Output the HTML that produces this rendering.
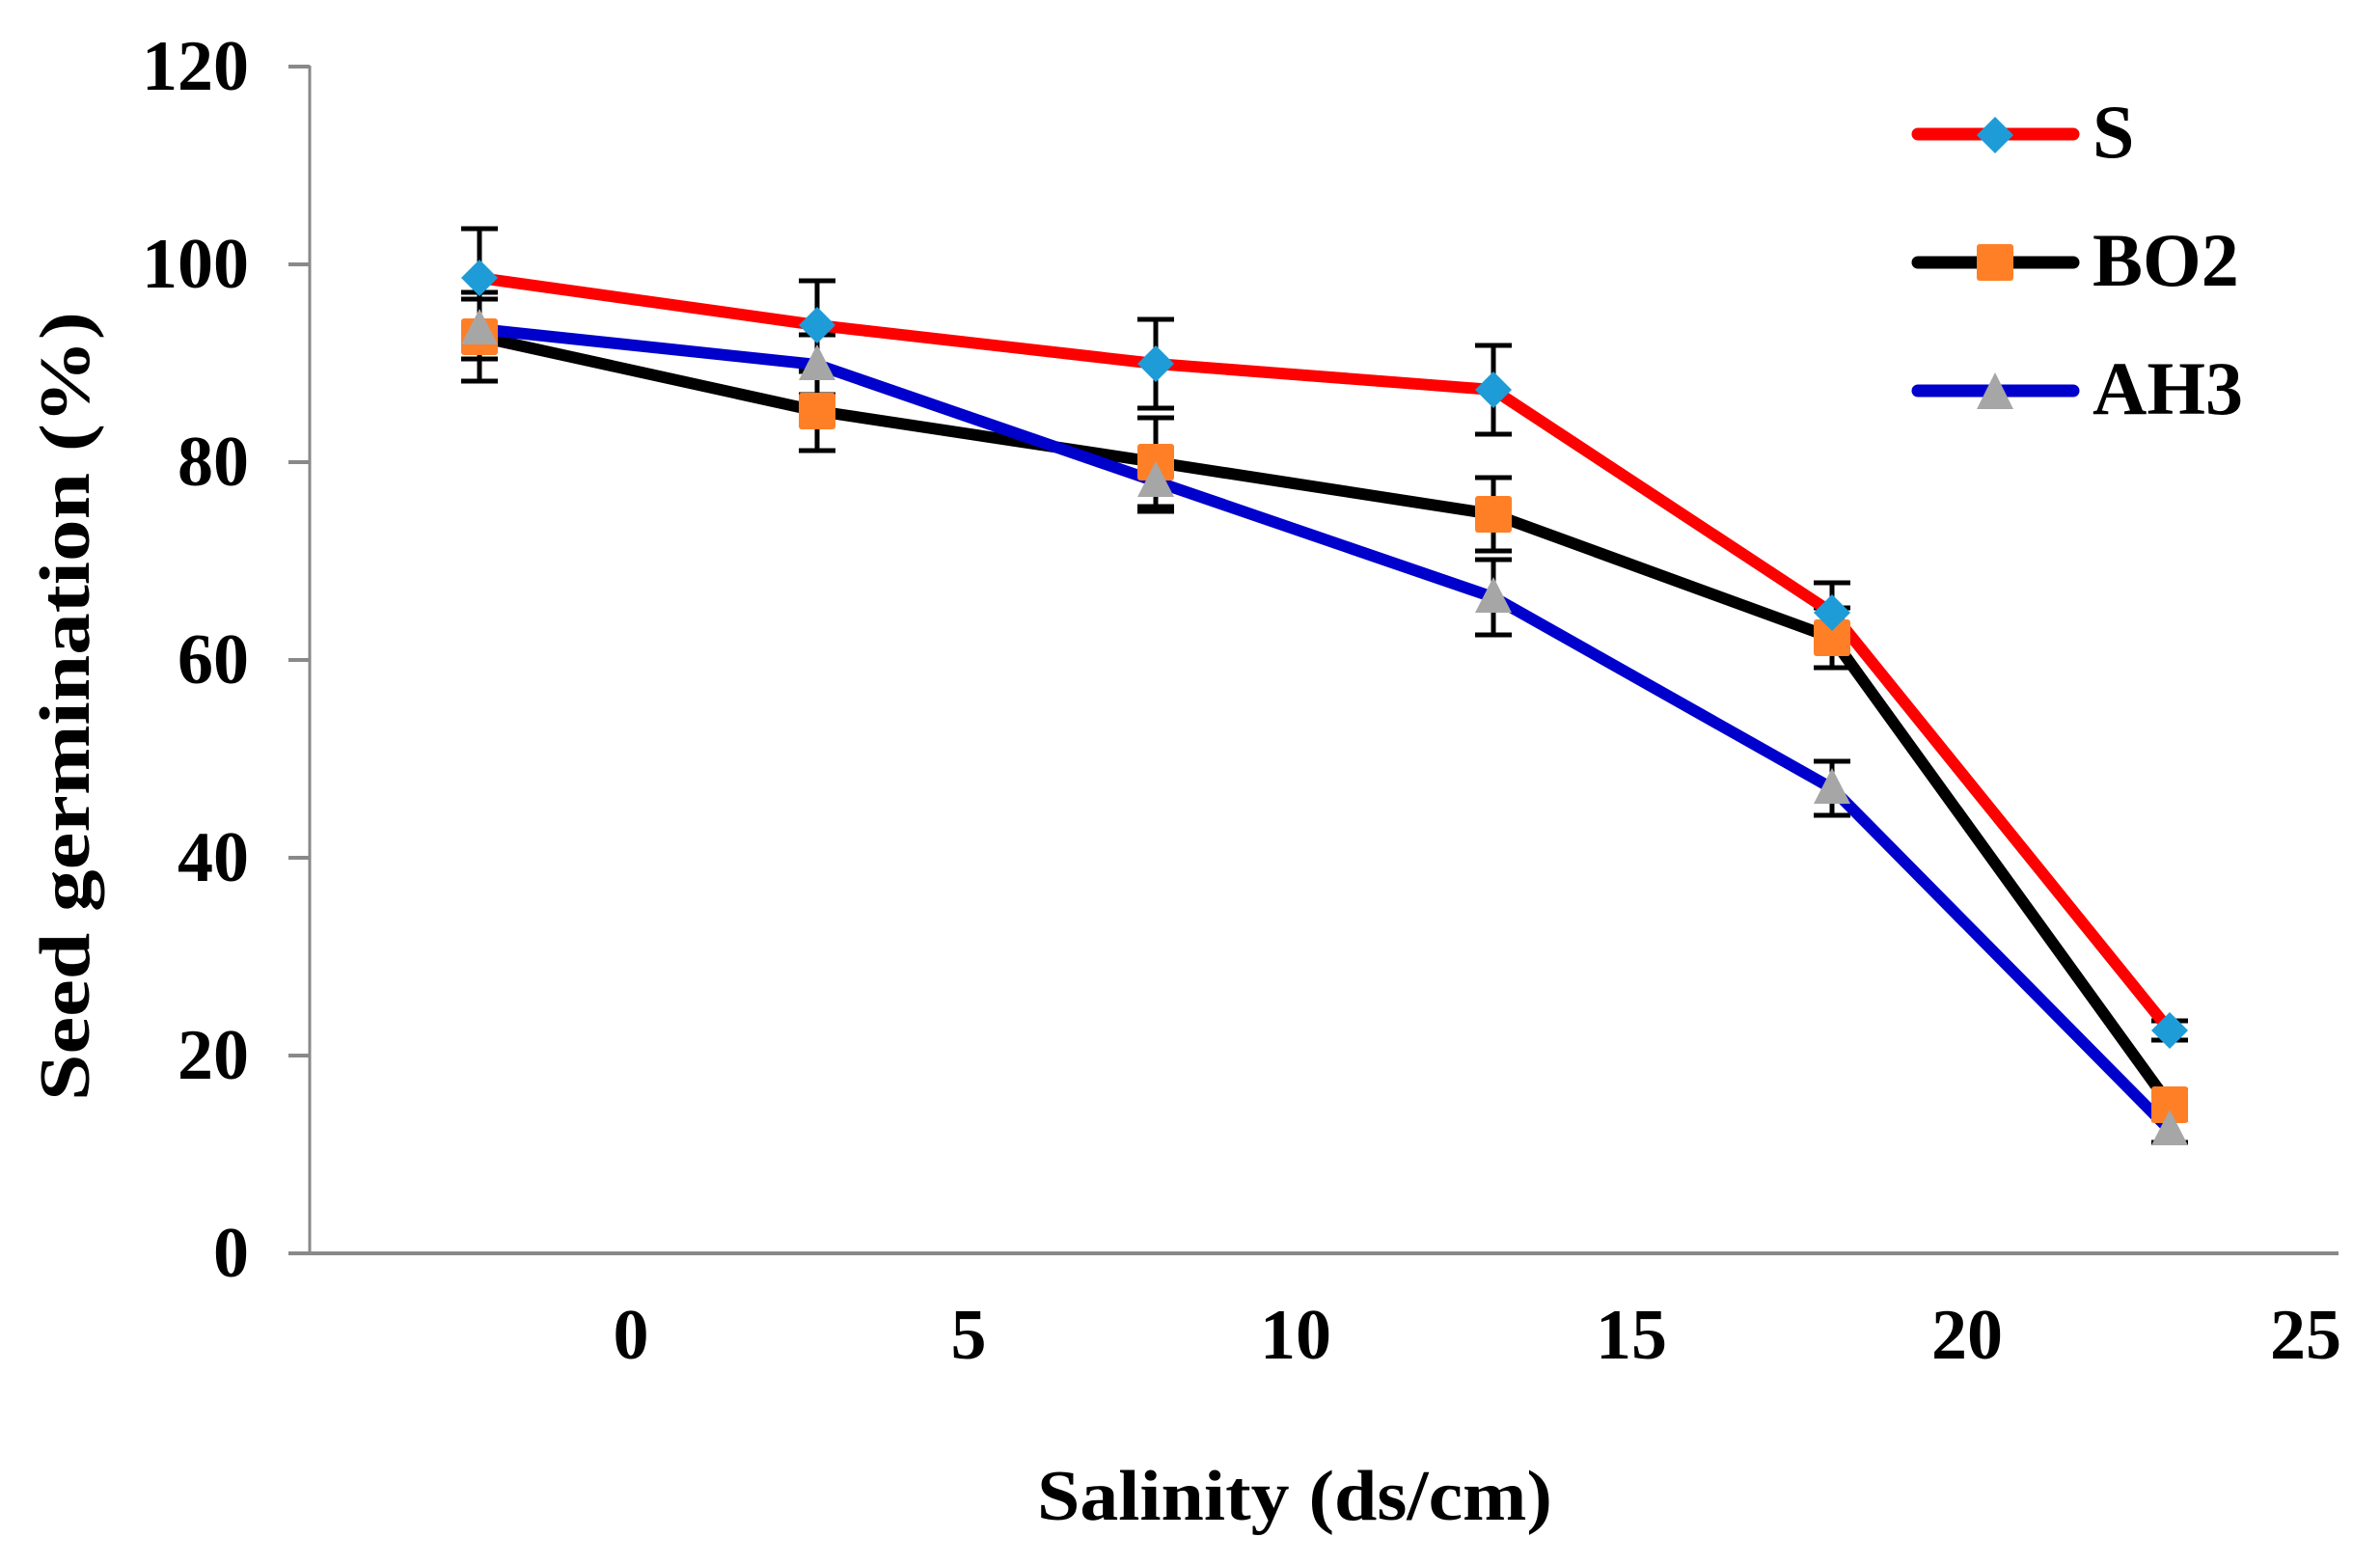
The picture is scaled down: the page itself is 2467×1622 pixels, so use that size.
<!DOCTYPE html>
<html><head><style>body{margin:0;background:#fff}</style></head><body>
<svg width="2467" height="1617" xmlns="http://www.w3.org/2000/svg" font-family="'Liberation Serif',serif" font-weight="bold">
<rect width="2467" height="1617" fill="#fff"/>
<g stroke="#898989">
<line x1="321" y1="68" x2="321" y2="1299" stroke-width="3"/>
<line x1="299" y1="1299" x2="2424" y2="1299" stroke-width="4"/>
<g stroke-width="4">
<line x1="299" y1="69" x2="321" y2="69"/><line x1="299" y1="274" x2="321" y2="274"/><line x1="299" y1="479" x2="321" y2="479"/><line x1="299" y1="684" x2="321" y2="684"/><line x1="299" y1="889" x2="321" y2="889"/><line x1="299" y1="1094" x2="321" y2="1094"/>
</g></g>
<g font-size="74" text-anchor="end">
<text x="258" y="93">120</text><text x="258" y="298">100</text><text x="258" y="503">80</text><text x="258" y="708">60</text><text x="258" y="913">40</text><text x="258" y="1118">20</text><text x="258" y="1323">0</text>
</g>
<g font-size="74" text-anchor="middle">
<text x="654" y="1408">0</text><text x="1004" y="1408">5</text><text x="1343" y="1408">10</text><text x="1691" y="1408">15</text><text x="2039" y="1408">20</text><text x="2390" y="1408">25</text>
</g>
<text x="1075" y="1575" font-size="74" textLength="534" lengthAdjust="spacingAndGlyphs">Salinity (ds/cm)</text>
<text transform="translate(92,732) rotate(-90)" font-size="74" text-anchor="middle" textLength="818" lengthAdjust="spacingAndGlyphs">Seed germination (%)</text>
<g stroke="#000" stroke-width="5">
<path d="M497 237V339M478 237H516M478 339H516"/>
<path d="M847 291V383M828 291H866M828 383H866"/>
<path d="M1198 331V423M1179 331H1217M1179 423H1217"/>
<path d="M1548 358V450M1529 358H1567M1529 450H1567"/>
<path d="M1899 604V666M1880 604H1918M1880 666H1918"/>
<path d="M2249 1058V1078M2230 1058H2268M2230 1078H2268"/>
<path d="M497 303V395M478 303H516M478 395H516"/>
<path d="M847 385V467M828 385H866M828 467H866"/>
<path d="M1198 433V525M1179 433H1217M1179 525H1217"/>
<path d="M1548 495V571M1529 495H1567M1529 571H1567"/>
<path d="M1899 630V692M1880 630H1918M1880 692H1918"/>
<path d="M2249 1130V1160M2230 1130H2268M2230 1160H2268"/>
<path d="M497 310V372M478 310H516M478 372H516"/>
<path d="M847 347V409M828 347H866M828 409H866"/>
<path d="M1198 468V530M1179 468H1217M1179 530H1217"/>
<path d="M1548 580V658M1529 580H1567M1529 658H1567"/>
<path d="M1899 789V845M1880 789H1918M1880 845H1918"/>
<path d="M2249 1158V1184M2230 1158H2268M2230 1184H2268"/>
</g>
<g fill="none" stroke-width="12" stroke-linejoin="round">
<polyline stroke="#000" points="497,349 847,426 1198,479 1548,533 1899,661 2249,1145"/>
<polyline stroke="#0000cc" points="497,341 847,378 1198,499 1548,619 1899,817 2249,1171"/>
<polyline stroke="#ff0000" points="497,288 847,337 1198,377 1548,404 1899,635 2249,1068"/>
</g>
<g fill="#ff7f27">
<rect x="478" y="330" width="38" height="38" rx="3"/><rect x="828" y="407" width="38" height="38" rx="3"/><rect x="1179" y="460" width="38" height="38" rx="3"/><rect x="1529" y="514" width="38" height="38" rx="3"/><rect x="1880" y="642" width="38" height="38" rx="3"/><rect x="2230" y="1126" width="38" height="38" rx="3"/>
</g>
<g fill="#a6a6a6">
<path d="M497 320L516 357H478Z"/><path d="M847 357L866 394H828Z"/><path d="M1198 478L1217 515H1179Z"/><path d="M1548 598L1567 635H1529Z"/><path d="M1899 796L1918 833H1880Z"/><path d="M2249 1150L2268 1187H2230Z"/>
</g>
<g fill="#1e9cd7">
<path d="M497 269L516 288L497 307L478 288Z"/><path d="M847 318L866 337L847 356L828 337Z"/><path d="M1198 358L1217 377L1198 396L1179 377Z"/><path d="M1548 385L1567 404L1548 423L1529 404Z"/><path d="M1899 616L1918 635L1899 654L1880 635Z"/><path d="M2249 1049L2268 1068L2249 1087L2230 1068Z"/>
</g>
<g stroke-width="13" stroke-linecap="round">
<line x1="1988" y1="139" x2="2149" y2="139" stroke="#ff0000"/>
<line x1="1988" y1="272" x2="2149" y2="272" stroke="#000"/>
<line x1="1988" y1="405" x2="2149" y2="405" stroke="#0000cc"/>
</g>
<path d="M2068 121L2087 140L2068 159L2049 140Z" fill="#1e9cd7"/>
<rect x="2049" y="253" width="38" height="38" rx="3" fill="#ff7f27"/>
<path d="M2068 386L2087 424H2049Z" fill="#a6a6a6"/>
<g font-size="78">
<text x="2169" y="163">S</text><text x="2169" y="296">BO2</text><text x="2169" y="429">AH3</text>
</g>
</svg>
</body></html>
